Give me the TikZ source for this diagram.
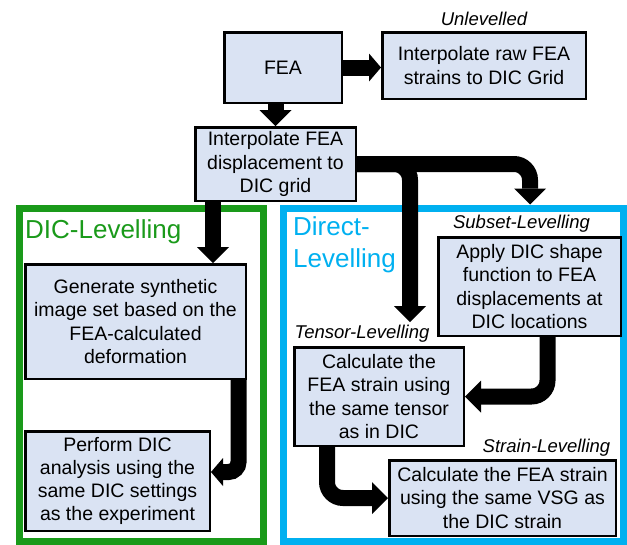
\documentclass[tikz,border=0pt]{standalone}
\usepackage{fontspec}
\setmainfont{Liberation Sans}
\usetikzlibrary{arrows.meta, positioning}
\definecolor{azulcaja}{HTML}{DAE3F3}
\definecolor{verdenivel}{HTML}{1A9A1A}
\definecolor{azulnivel}{HTML}{00B0F0}
\colorlet{colCaja}{azulcaja}
\colorlet{colDIC}{verdenivel}
\colorlet{colDirecto}{azulnivel}
\tikzset{
  cajaPaso/.style={
    draw=black, line width=2.5pt, fill=colCaja,
    align=center, inner sep=2pt,
    font=\fontsize{19.5}{23.3}\selectfont
  },
  marcoNivel/.style={draw, line width=7pt, inner sep=0pt},
  tituloNivel/.style={font=\fontsize{26}{32}\selectfont, align=left, inner sep=0pt},
  etiquetaNivel/.style={font=\fontsize{18.5}{22}\selectfont\itshape, inner sep=0pt},
  flechaGruesa/.style={line width=16pt, rounded corners=16pt,
    -{Triangle[length=16pt, width=32pt, line width=0pt]}},
  puntaCorta/.style={rounded corners=10pt,
    -{Triangle[length=12pt, width=28pt, line width=0pt]}},
}

\begin{document}
\begin{tikzpicture}[x=1pt, y=-1pt]
    \useasboundingbox (0,0) rectangle (627,544);
    % marcos de los dos grupos
    \node[marcoNivel, draw=colDIC, minimum width=244.5pt, minimum height=333pt] (marcoDIC) at (141.25,374.5) {};
    \node[marcoNivel, draw=colDirecto, minimum width=340pt, minimum height=333pt] (marcoDirecto) at (453.5,374.5) {};
    \node[tituloNivel, text=colDIC, anchor=base west] (tituloDIC) at (25,238) {DIC-Levelling};
    \node[tituloNivel, text=colDirecto, anchor=north west] (tituloDirecto) at (293,216) {Direct-\\Levelling};

    % pasos
    \node[cajaPaso, minimum width=117.5pt, minimum height=70.5pt] (fea) at (283,67.5) {FEA};
    \node[cajaPaso, minimum width=203.5pt, minimum height=66.5pt] (unlev) at (484,65.5) {Interpolate raw FEA\\strains to DIC Grid};
    \node[cajaPaso, minimum width=160.5pt, minimum height=73.5pt] (interp) at (275.5,164) {Interpolate FEA\\displacement to\\DIC grid};
    \node[cajaPaso, minimum width=220.5pt, minimum height=114.5pt] (gen) at (135.5,321.5) {Generate synthetic\\image set based on the\\FEA-calculated\\deformation};
    \node[cajaPaso, minimum width=184.5pt, minimum height=99.5pt] (perf) at (117.5,481) {Perform DIC\\analysis using the\\same DIC settings\\as the experiment};
    \node[cajaPaso, minimum width=182.5pt, minimum height=98.5pt] (sub) at (529.5,286.5) {Apply DIC shape\\function to FEA\\displacements at\\DIC locations};
    \node[cajaPaso, minimum width=169.5pt, minimum height=98.5pt] (tens) at (379,396.5) {Calculate the\\FEA strain using\\the same tensor\\as in DIC};
    \node[cajaPaso, minimum width=226.5pt, minimum height=75.5pt] (strain) at (502.5,498) {Calculate the FEA strain\\using the same VSG as\\the DIC strain};

    % etiquetas de cada nivelado
    \node[etiquetaNivel, anchor=base] (lblUnlev) at (484,25) {Unlevelled};
    \node[etiquetaNivel, anchor=base] (lblSubset) at (521.5,228) {Subset-Levelling};
    \node[etiquetaNivel, anchor=base] (lblTensor) at (362,338) {Tensor-Levelling};
    \node[etiquetaNivel, anchor=base] (lblStrain) at (546.5,452) {Strain-Levelling};

    % flechas
    \coordinate (ramaDIC) at (213,0);
    \coordinate (ramaSubset) at (530,0);
    \coordinate (puntaTensor) at (410,322);
    \draw[flechaGruesa, puntaCorta] (fea.east) -- (unlev.west |- fea.east);
    \draw[flechaGruesa] (fea.south -| interp.north) -- (interp.north);
    \draw[flechaGruesa] (interp.east) -| (marcoDirecto.north -| ramaSubset);
    \draw[flechaGruesa] (interp.east) -| (puntaTensor);
    \draw[flechaGruesa] (interp.south -| ramaDIC) -- (gen.north -| ramaDIC);
    \draw[flechaGruesa, puntaCorta] ([xshift=103pt]gen.south) |- ([yshift=9pt]perf.east);
    \draw[flechaGruesa] ([xshift=18pt]sub.south) |- (tens.east);
    \draw[flechaGruesa] ([xshift=-52pt]tens.south) |- (strain.west);
\end{tikzpicture}
\end{document}
